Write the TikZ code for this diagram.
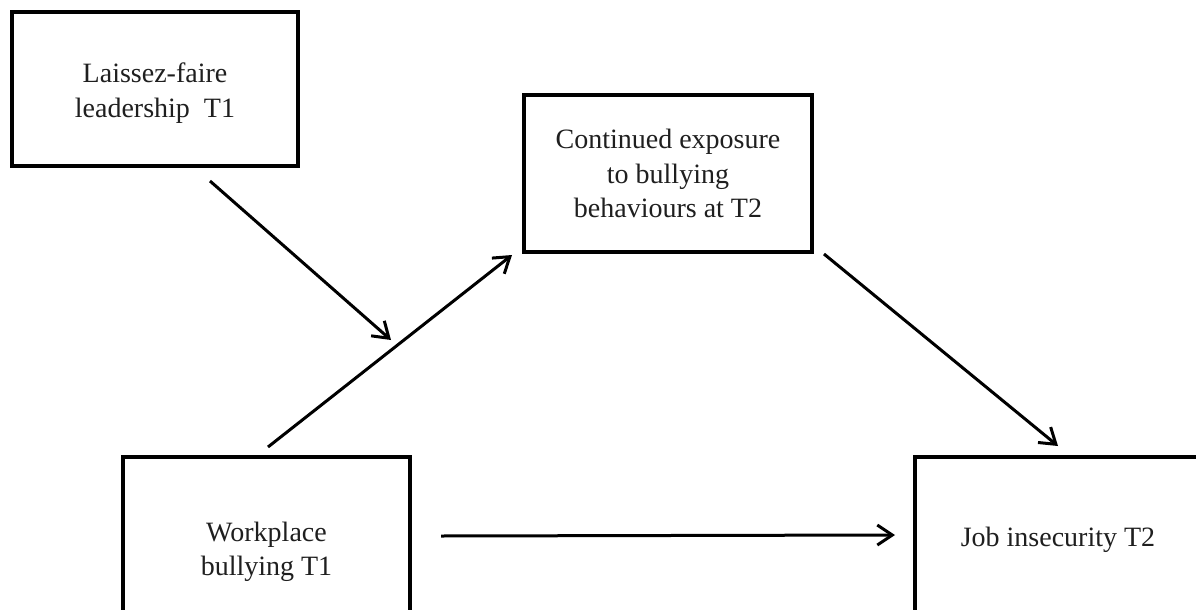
\documentclass[tikz,border=0pt]{standalone}
\usepackage{fontspec}
\setmainfont{Liberation Serif}
\usetikzlibrary{arrows.meta}

\tikzset{
  varbox/.style={draw=black, line width=4pt, inner sep=0pt, align=center,
    text=black!88, font=\fontsize{28}{34.5}\selectfont},
  path arrow/.style={draw=black, line width=3pt,
    -{Straight Barb[length=15pt,width=20pt,line width=3pt]}},
}

\begin{document}
\begin{tikzpicture}[x=1pt,y=-1pt]
  \useasboundingbox (0,0) rectangle (1196,610);
  \clip (0,0) rectangle (1196,610);
  \fill[white] (0,0) rectangle (1196,610);

  % variables
  \node[varbox, minimum width=286pt, minimum height=154pt] (lf) at (155,89)
    {\raisebox{-4pt}[\height][\depth]{\begin{tabular}{@{}c@{}}Laissez-faire\\leadership~ T1\end{tabular}}};
  \node[varbox, minimum width=288pt, minimum height=157pt] (ce) at (668,173.5)
    {Continued exposure\\to bullying\\behaviours at T2};
  \node[varbox, minimum width=287pt, minimum height=190pt] (wb) at (266.5,552)
    {Workplace\\bullying T1};
  \node[varbox, minimum width=286pt, minimum height=160pt] (ji) at (1058,537)
    {\raisebox{-3pt}[\height][\depth]{Job insecurity T2}};

  % end points of the paths
  \coordinate (wbTop) at ([xshift=1.5pt,yshift=8pt]wb.north);
  \coordinate (ceIn)  at ([xshift=-10pt,yshift=-1pt]ce.south west);
  \coordinate (ceOut) at ([xshift=10pt]ce.south east);
  \coordinate (jiTop) at ([yshift=9pt]ji.north);
  \coordinate (lfOut) at ([xshift=55pt,yshift=-13pt]lf.south);
  \coordinate (mod)   at (391,340);
  \coordinate (wbOut) at ([xshift=29pt,yshift=16pt]wb.east);
  \coordinate (jiIn)  at ([xshift=-18pt,yshift=2pt]ji.west);

  % paths
  \draw[path arrow] (wbTop) -- (ceIn);
  \draw[path arrow] (ceOut) -- (jiTop);
  \draw[path arrow] (lfOut) -- (mod);
  \draw[path arrow] (wbOut) -- (jiIn);
\end{tikzpicture}
\end{document}
